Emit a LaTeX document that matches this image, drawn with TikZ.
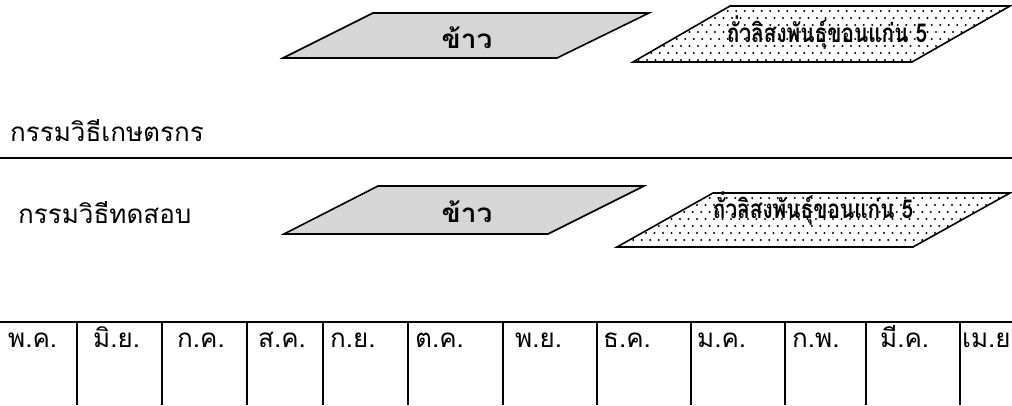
\documentclass[tikz,border=0pt]{standalone}
\usepackage{fontspec}
\newfontfamily\thai[Script=Thai]{Loma}
\begin{document}
\begin{tikzpicture}[x=1pt,y=-1pt,
  ricebox/.style={draw=black, line width=1.6pt, fill=black!16, line join=miter},
  beanbox/.style={draw=black, line width=1.6pt, line join=miter},
  rulel/.style={line width=1.8pt},
  lbl/.style={font=\thai\fontsize{26}{30}\selectfont, inner sep=0pt},
  blbl/.style={font=\thai\bfseries\fontsize{26}{30}\selectfont, inner sep=0pt, anchor=base},
  month/.style={lbl, anchor=base west}]
\useasboundingbox (0,0) rectangle (1012,405);
% top row
\draw[ricebox] (283,58) -- (373,13) -- (649,13) -- (557,58) -- cycle;
\begin{scope}
\clip (633,62) -- (730,6) -- (1010,6) -- (912,62) -- cycle;
\foreach \j in {0,...,9} \foreach \i in {0,...,45}
  \fill ({630+\i*8.5+mod(\j,2)*4.25},{4+\j*7}) circle (1.1pt);
\end{scope}
\draw[beanbox] (633,62) -- (730,6) -- (1010,6) -- (912,62) -- cycle;
\node[blbl] (rice1) at (467,48) {\scalebox{1.08}[1]{ข้าว}};
\node[blbl] (bean1) at (827,42) {\scalebox{0.8}[1]{ถั่วลิสงพันธุ์ขอนแก่น 5}};
\node[lbl, anchor=base west] (farmer) at (10,141) {กรรมวิธีเกษตรกร};
% separator
\draw[rulel] (0,158) -- (1012,158);
% middle row
\draw[ricebox] (284,234) -- (378,186) -- (644,186) -- (548,234) -- cycle;
\begin{scope}
\clip (617,247) -- (713,193) -- (1010,193) -- (913,247) -- cycle;
\foreach \j in {0,...,9} \foreach \i in {0,...,47}
  \fill ({612+\i*8.5+mod(\j,2)*4.25},{191+\j*7}) circle (1.1pt);
\end{scope}
\draw[beanbox] (617,247) -- (713,193) -- (1010,193) -- (913,247) -- cycle;
\node[blbl] (rice2) at (467,222) {\scalebox{1.08}[1]{ข้าว}};
\node[blbl] (bean2) at (813,218) {\scalebox{0.8}[1]{ถั่วลิสงพันธุ์ขอนแก่น 5}};
\node[lbl, anchor=base west] (test) at (18,223) {กรรมวิธีทดสอบ};
% month table
\draw[rulel] (0,322) -- (1012,322);
\foreach \x in {77,162,247,323,408,503,597,691,785,866,960}
  \draw[rulel] (\x,322) -- (\x,405);
\node[month] (m1) at (8,347) {พ.ค.};
\node[month] (m2) at (93,347) {มิ.ย.};
\node[month] (m3) at (177,347) {ก.ค.};
\node[month] (m4) at (258,347) {ส.ค.};
\node[month] (m5) at (330,347) {ก.ย.};
\node[month] (m6) at (415,347) {ต.ค.};
\node[month] (m7) at (515,347) {พ.ย.};
\node[month] (m8) at (603,347) {ธ.ค.};
\node[month] (m9) at (697,347) {ม.ค.};
\node[month] (m10) at (792,347) {ก.พ.};
\node[month] (m11) at (880,347) {มี.ค.};
\node[month] (m12) at (962,347) {เม.ย.};
\end{tikzpicture}
\end{document}
